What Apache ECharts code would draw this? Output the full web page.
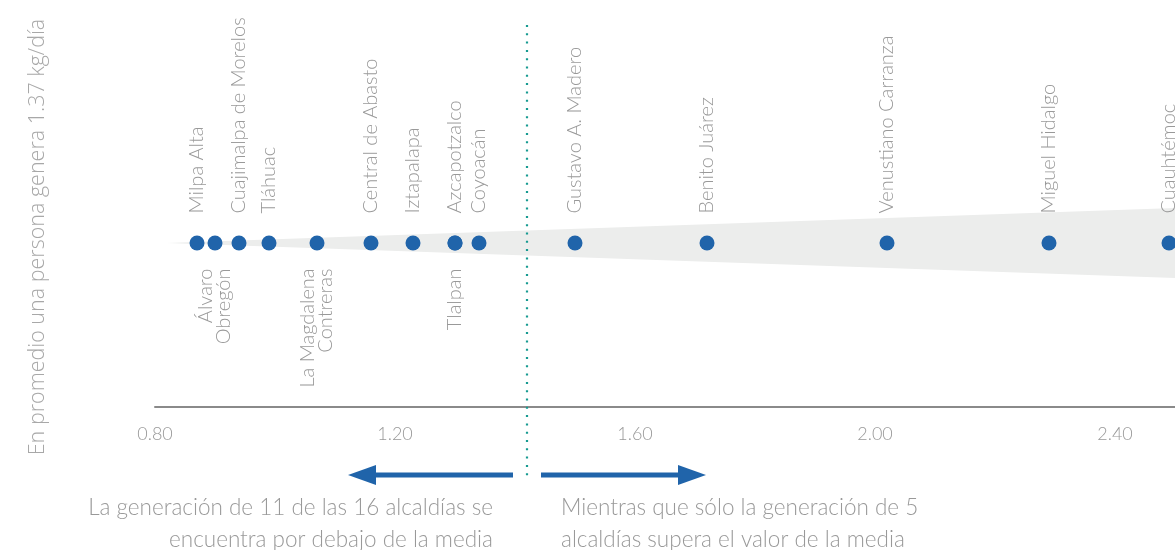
<!DOCTYPE html>
<html>
<head>
<meta charset="utf-8">
<script src="https://cdn.jsdelivr.net/npm/echarts@6/dist/echarts.min.js"></script>
<style>
  html, body { margin: 0; padding: 0; background: #ffffff; }
  #chart { width: 1175px; height: 550px; }
</style>
</head>
<body>
<div id="chart"></div>
<script>
// Residuos generados por persona (kg/día) en cada alcaldía
const alcaldias = [
  'Milpa Alta', 'Álvaro\nObregón', 'Cuajimalpa de Morelos', 'Tláhuac',
  'La Magdalena\nContreras', 'Central de Abasto', 'Iztapalapa', 'Tlalpan',
  'Azcapotzalco', 'Coyoacán', 'Gustavo A. Madero', 'Benito Juárez',
  'Venustiano Carranza', 'Miguel Hidalgo', 'Cuauhtémoc'
];
const kgDia = [0.87, 0.90, 0.94, 0.99, 1.07, 1.16, 1.23, 1.30, 1.30, 1.34, 1.50, 1.72, 2.02, 2.29, 2.49];
// which side of the dot each name is written on
const ladoEtiqueta = ['top', 'bottom', 'top', 'top', 'bottom', 'top', 'top', 'bottom', 'top', 'top', 'top', 'top', 'top', 'top', 'top'];
const media = 1.42;
const ticks = ['0.80', '1.20', '1.60', '2.00', '2.40'];
// grey cone behind the dots: value range and its half-width at the far end
const conoDesde = 0.82;
const conoHasta = 2.5;
const conoAncho = 0.213;

const tituloEje = 'En promedio una persona genera 1.37 kg/día';
const textoIzq = 'La generación de 11 de las 16 alcaldías se\nencuentra por debajo de la media';
const textoDer = 'Mientras que sólo la generación de 5\nalcaldías supera el valor de la media';

const FONT = 'Lato, "Open Sans", "Noto Sans", sans-serif';
const FONT_TITULO = '"Open Sans", Lato, "Noto Sans", sans-serif';
const AZUL = '#2064aa';
const GRIS_TXT = '#999999';

const chart = echarts.init(document.getElementById('chart'), null, { renderer: 'canvas' });

const option = {
  animation: false,
  backgroundColor: '#ffffff',
  grid: { left: 155, right: 0, top: 79, bottom: 143 },
  xAxis: {
    type: 'value',
    min: 0.8,
    max: 2.5,
    interval: 0.4,
    axisLine: { show: true, onZero: false, lineStyle: { color: '#8a8a8a', width: 2 } },
    axisTick: { show: false },
    splitLine: { show: false },
    axisLabel: {
      showMaxLabel: false,
      margin: 18,
      color: GRIS_TXT,
      fontFamily: FONT,
      fontWeight: 300,
      fontSize: 18,
      formatter: function (v) {
        const i = Math.round((v - 0.8) / 0.4);
        return ticks[i] !== undefined ? ticks[i] : '';
      }
    }
  },
  yAxis: {
    type: 'value', min: -1, max: 1, show: false
  },
  graphic: [
    {
      type: 'text',
      x: 38, y: 237,
      rotation: Math.PI / 2,
      style: {
        text: tituloEje,
        fill: '#a8a8a8',
        font: '300 21.5px ' + FONT_TITULO,
        textAlign: 'center',
        textVerticalAlign: 'middle'
      }
    }
  ],
  series: [
    {
      // cone
      type: 'custom',
      silent: true,
      z: 1,
      data: [[conoDesde, conoHasta, conoAncho]],
      renderItem: function (params, api) {
        const a = api.coord([api.value(0), 0]);
        const bt = api.coord([api.value(1), api.value(2)]);
        const bb = api.coord([api.value(1), -api.value(2)]);
        return {
          type: 'polygon',
          shape: { points: [a, bt, bb] },
          style: { fill: '#ecedec' }
        };
      }
    },
    {
      type: 'scatter',
      z: 3,
      symbol: 'circle',
      symbolSize: 15,
      itemStyle: { color: AZUL, opacity: 1 },
      label: {
        show: true,
        formatter: '{b}',
        rotate: 90,
        verticalAlign: 'middle',
        fontFamily: FONT,
        fontWeight: 300,
        fontSize: 20,
        lineHeight: 18,
        color: GRIS_TXT
      },
      data: kgDia.map(function (v, i) {
        const arriba = ladoEtiqueta[i] === 'top';
        return {
          name: alcaldias[i],
          value: [v, 0],
          label: {
            position: ladoEtiqueta[i],
            align: arriba ? 'left' : 'right',
            distance: arriba ? 22 : 18
          }
        };
      })
    },
    {
      // mean line, arrows and notes
      type: 'custom',
      silent: true,
      z: 4,
      data: [[media]],
      renderItem: function (params, api) {
        const x = api.coord([api.value(0), 0])[0];
        const yA = 475;
        return {
          type: 'group',
          children: [
            {
              type: 'line',
              shape: { x1: x, y1: 25, x2: x, y2: 478 },
              style: { stroke: '#179a91', lineWidth: 2.2, lineDash: [2, 6.3] }
            },
            {
              type: 'rect',
              shape: { x: x - 151, y: yA - 2.5, width: 137, height: 5 },
              style: { fill: AZUL }
            },
            {
              type: 'polygon',
              shape: { points: [[x - 179, yA], [x - 151, yA - 10], [x - 151, yA + 10]] },
              style: { fill: AZUL }
            },
            {
              type: 'rect',
              shape: { x: x + 14, y: yA - 2.5, width: 137, height: 5 },
              style: { fill: AZUL }
            },
            {
              type: 'polygon',
              shape: { points: [[x + 179, yA], [x + 151, yA - 10], [x + 151, yA + 10]] },
              style: { fill: AZUL }
            },
            {
              type: 'text',
              x: x - 34, y: 524,
              style: {
                text: textoIzq,
                fill: GRIS_TXT,
                font: '300 22.5px ' + FONT,
                lineHeight: 32,
                textAlign: 'right',
                textVerticalAlign: 'middle'
              }
            },
            {
              type: 'text',
              x: x + 34, y: 524,
              style: {
                text: textoDer,
                fill: GRIS_TXT,
                font: '300 22.5px ' + FONT,
                lineHeight: 32,
                textAlign: 'left',
                textVerticalAlign: 'middle'
              }
            }
          ]
        };
      }
    }
  ]
};

chart.setOption(option);
</script>
</body>
</html>
